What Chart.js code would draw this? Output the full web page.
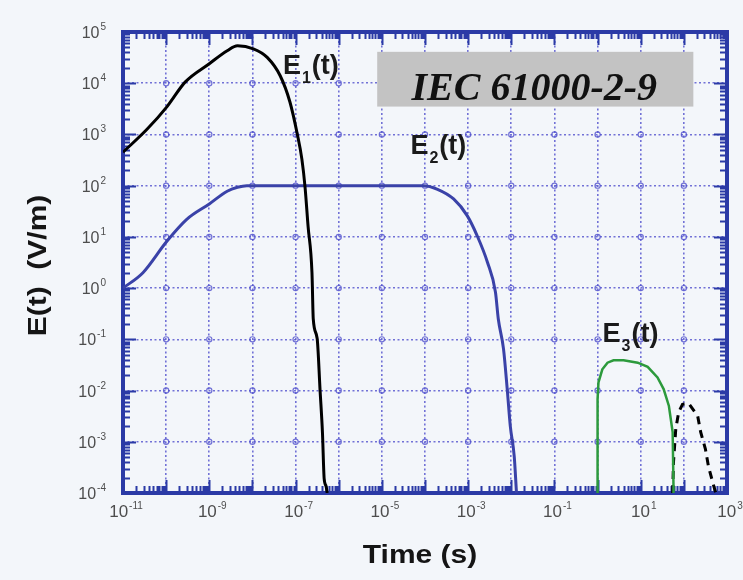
<!DOCTYPE html>
<html>
<head>
<meta charset="utf-8">
<script src="https://cdn.jsdelivr.net/npm/chart.js@4.4.1/dist/chart.umd.min.js"></script>
<style>
  html, body { margin: 0; padding: 0; background: #f3f6fa; }
  canvas { display: block; }
</style>
</head>
<body>
<canvas id="chart" width="743" height="580"></canvas>
<script>
// E1(t) - early-time HEMP (black)
const tE1 = [1e-11, 3.6e-11, 1.05e-10, 2.75e-10, 1e-9, 2.6e-9, 4.5e-9, 1.05e-8, 2.2e-8, 4.4e-8, 7.4e-8, 1.1e-7,
             1.4e-7, 1.66e-7, 1.95e-7, 2.4e-7, 2.57e-7, 3.16e-7, 3.7e-7, 4.2e-7, 4.6e-7, 5.1e-7, 5.4e-7];
const vE1 = [450, 1260, 3500, 1.05e4, 2.4e4, 4.3e4, 5.4e4, 4.7e4, 3.2e4, 1.4e4, 4300, 1000,
             330, 93, 16, 2.0, 0.25, 0.105, 0.01, 1.5e-3, 1.9e-4, 1.35e-4, 1e-4];

// E2(t) - intermediate-time HEMP (blue)
const tE2 = [1e-11, 2.9e-11, 1.05e-10, 3e-10, 1e-9, 2.6e-9, 4.5e-9, 7.4e-9, 9.1e-5, 1.95e-4, 4.6e-4, 9.5e-4,
             1.62e-3, 2.8e-3, 4.3e-3, 5e-3, 6.6e-3, 8.1e-3, 9.5e-3, 1.17e-2, 1.32e-2];
const vE2 = [1.0, 2.0, 8.3, 22, 44, 78, 93, 100, 100, 85, 55, 26,
             10.5, 3.2, 0.83, 0.25, 0.065, 0.01, 2e-3, 5.2e-4, 1e-4];

// E3(t) - late-time HEMP (green)
const tE3 = [1.0, 1.0, 1.0, 1.05, 1.29, 1.7, 2.34, 4.0, 8.5, 14.5, 24.5, 34, 45, 55, 57.5, 57.5];
const vE3 = [1e-4, 1.55e-3, 6.8e-3, 0.0145, 0.026, 0.035, 0.039, 0.039, 0.035, 0.029, 0.018, 0.0107,
             5e-3, 1.55e-3, 1.35e-4, 1e-4];

// second late-time pulse (black dashed)
const tE3b = [55, 57.5, 65, 76, 93, 129, 209, 245, 316, 372, 468, 550];
const vE3b = [1e-4, 4e-4, 1.8e-3, 3.8e-3, 5.4e-3, 5.6e-3, 3.2e-3, 1.55e-3, 7.2e-4, 3.3e-4, 1.6e-4, 1e-4];

// axis decades (exponents of 10)
const xExp = [-11, -10, -9, -8, -7, -6, -5, -4, -3, -2, -1, 0, 1, 2, 3];
const yExp = [-4, -3, -2, -1, 0, 1, 2, 3, 4, 5];
// labelled ticks on x (every other decade)
const xLabelExp = [-11, -9, -7, -5, -3, -1, 1, 3];

const frameColor = '#2b3aa6';
const gridColor = 'rgba(80, 80, 205, 0.8)';

const pts = (ts, vs) => ts.map((t, i) => ({ x: t, y: vs[i] }));

const drawPow = (ctx, exp, x, y, align, size) => {
  const base = '10', sup = String(exp);
  ctx.font = size + 'px "Liberation Sans", Arial, sans-serif';
  const wb = ctx.measureText(base).width;
  ctx.font = '10px "Liberation Sans", Arial, sans-serif';
  const ws = ctx.measureText(sup).width;
  const w = wb + ws + 1;
  let x0 = align === 'right' ? x - w : x - w / 2;
  ctx.textBaseline = 'alphabetic';
  ctx.textAlign = 'left';
  ctx.font = size + 'px "Liberation Sans", Arial, sans-serif';
  ctx.fillText(base, x0, y + 6);
  ctx.font = '10px "Liberation Sans", Arial, sans-serif';
  ctx.fillText(sup, x0 + wb + 1, y - 2);
};

// stretched bold title text (the original lettering is wide)
const wideText = (ctx, text, cx, cy, rot) => {
  ctx.save();
  ctx.translate(cx, cy);
  if (rot) ctx.rotate(rot);
  ctx.scale(1.2, 1);
  ctx.fillText(text, 0, 0);
  ctx.restore();
};

const framePlugin = {
  id: 'frame',
  beforeDatasetsDraw(chart) {
    const { ctx, chartArea: a, scales: { x, y } } = chart;
    ctx.save();
    // little circles where the grid lines cross
    ctx.strokeStyle = gridColor;
    ctx.lineWidth = 1.2;
    xExp.forEach(ex => yExp.forEach(ey => {
      const px = x.getPixelForValue(10 ** ex), py = y.getPixelForValue(10 ** ey);
      if (px < a.left + 3 || px > a.right - 3 || py < a.top + 3 || py > a.bottom - 3) return;
      ctx.beginPath();
      ctx.arc(px, py, 2.6, 0, Math.PI * 2);
      ctx.stroke();
    }));

    // minor / major ticks on all four sides
    ctx.strokeStyle = frameColor;
    ctx.lineWidth = 2;
    ctx.beginPath();
    xExp.forEach(e => {
      for (let k = 1; k <= 9; k++) {
        const v = k * 10 ** e;
        if (v > x.max * 1.0001) break;
        const px = Math.round(x.getPixelForValue(v)) + 0.5;
        const len = k === 1 ? 13 : 7;
        ctx.moveTo(px, a.bottom); ctx.lineTo(px, a.bottom - len);
        ctx.moveTo(px, a.top); ctx.lineTo(px, a.top + len);
      }
    });
    yExp.forEach(e => {
      for (let k = 1; k <= 9; k++) {
        const v = k * 10 ** e;
        if (v > y.max * 1.0001) break;
        const py = Math.round(y.getPixelForValue(v)) + 0.5;
        const len = k === 1 ? 13 : 7;
        ctx.moveTo(a.left, py); ctx.lineTo(a.left + len, py);
        ctx.moveTo(a.right, py); ctx.lineTo(a.right - len, py);
      }
    });
    ctx.stroke();

    ctx.lineWidth = 4;
    ctx.strokeRect(a.left, a.top, a.right - a.left, a.bottom - a.top);
    ctx.restore();
  },
  afterDraw(chart) {
    const { ctx, chartArea: a, scales: { x, y } } = chart;
    ctx.save();

    // tick labels
    ctx.fillStyle = '#4d4d4d';
    yExp.forEach(e => drawPow(ctx, e, a.left - 17, y.getPixelForValue(10 ** e), 'right', 16));
    xLabelExp.forEach(e => drawPow(ctx, e, x.getPixelForValue(10 ** e) + 3, a.bottom + 18, 'center', 17));

    // axis titles
    ctx.fillStyle = '#151515';
    ctx.font = 'bold 25px "Liberation Sans", Arial, sans-serif';
    ctx.textAlign = 'center';
    ctx.textBaseline = 'alphabetic';
    wideText(ctx, 'Time (s)', (a.left + a.right) / 2 - 5, a.bottom + 70, 0);
    wideText(ctx, 'E(t)  (V/m)', 46, (a.top + a.bottom) / 2 + 3, -Math.PI / 2);
    ctx.restore();

    // standard box
    ctx.save();
    const bx0 = x.getPixelForValue(7.8e-6), bx1 = x.getPixelForValue(166);
    const by0 = y.getPixelForValue(4.1e4), by1 = y.getPixelForValue(3500);
    ctx.fillStyle = '#c3c3c3';
    ctx.fillRect(bx0, by0, bx1 - bx0, by1 - by0);
    ctx.fillStyle = '#111';
    ctx.font = 'italic bold 40px "Liberation Serif", "Times New Roman", serif';
    ctx.textAlign = 'center';
    ctx.textBaseline = 'alphabetic';
    ctx.fillText('IEC 61000-2-9', (bx0 + bx1) / 2 - 1, by1 - 7);

    // curve labels
    const curveLabel = (sub, tx, vy) => {
      const px = x.getPixelForValue(tx), py = y.getPixelForValue(vy);
      ctx.textAlign = 'left';
      ctx.font = 'bold 27px "Liberation Sans", Arial, sans-serif';
      ctx.fillText('E', px, py);
      const we = ctx.measureText('E').width;
      ctx.font = 'bold 16px "Liberation Sans", Arial, sans-serif';
      ctx.fillText(sub, px + we + 1, py + 9);
      const ws = ctx.measureText(sub).width;
      ctx.font = 'bold 27px "Liberation Sans", Arial, sans-serif';
      ctx.fillText('(t)', px + we + ws + 2, py);
    };
    ctx.fillStyle = '#1a1a1a';
    curveLabel('1', 5.1e-8, 1.5e4);
    curveLabel('2', 4.6e-5, 420);
    curveLabel('3', 1.3, 0.09);
    ctx.restore();
  }
};

const decadeTicks = exps => scale => { scale.ticks = exps.map(e => ({ value: 10 ** e })); };

new Chart(document.getElementById('chart').getContext('2d'), {
  type: 'line',
  data: {
    datasets: [
      { label: 'E1(t)', data: pts(tE1, vE1), borderColor: '#000', borderWidth: 3, cubicInterpolationMode: 'monotone' },
      { label: 'E2(t)', data: pts(tE2, vE2), borderColor: '#3a42a8', borderWidth: 3, cubicInterpolationMode: 'monotone' },
      { label: 'E3(t)', data: pts(tE3, vE3), borderColor: '#2c9a3c', borderWidth: 2.5 },
      { label: 'E3(t) second pulse', data: pts(tE3b, vE3b), borderColor: '#000', borderWidth: 3, borderDash: [8, 6] }
    ]
  },
  options: {
    responsive: false,
    animation: false,
    layout: { padding: { left: 123, top: 32, right: 16, bottom: 87 } },
    elements: { point: { radius: 0 }, line: { tension: 0 } },
    plugins: { legend: { display: false }, tooltip: { enabled: false } },
    scales: {
      x: {
        type: 'logarithmic',
        min: 1e-11, max: 1e3,
        afterBuildTicks: decadeTicks(xExp),
        ticks: { display: false },
        grid: { color: gridColor, lineWidth: 1.6, drawTicks: false },
        border: { display: false, dash: [2, 2.5] }
      },
      y: {
        type: 'logarithmic',
        min: 1e-4, max: 1e5,
        afterBuildTicks: decadeTicks(yExp),
        ticks: { display: false },
        grid: { color: gridColor, lineWidth: 1.6, drawTicks: false },
        border: { display: false, dash: [2, 2.5] }
      }
    }
  },
  plugins: [framePlugin]
});
</script>
</body>
</html>
